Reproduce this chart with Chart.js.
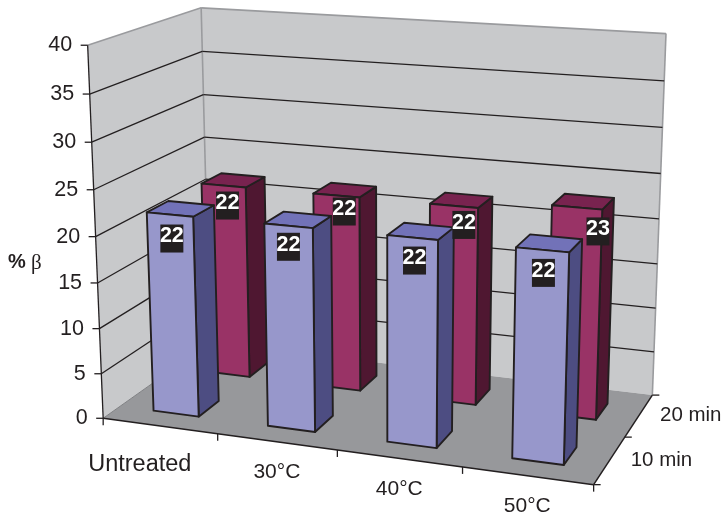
<!DOCTYPE html>
<html>
<head>
<meta charset="utf-8">
<script src="https://cdn.jsdelivr.net/npm/chart.js@4"></script>
<style>
  html, body { margin: 0; padding: 0; background: #fff; }
  canvas { display: block; }
</style>
</head>
<body>
<canvas id="graph1" width="725" height="516"></canvas>
<script>
const categories = ['Untreated', '30°C', '40°C', '50°C'];
const seriesNames = ['10 min', '20 min'];
const values10 = [22, 22, 22, 22];
const values20 = [22, 22, 22, 23];
const yTicks = [0, 5, 10, 15, 20, 25, 30, 35, 40];

const ink = '#231f20';
const wallEdge = '#9a9b9e';
const rows = [
  { w0: 0.145, w1: 0.335, front: '#9797cb', side: '#4d4d82', top: '#7272b8' },
  { w0: 0.645, w1: 0.84, front: '#993366', side: '#4f1731', top: '#78234f' }
];
// label nudges in px [x, y], the original has them moved by hand
const valueNudge = [
  [[2, 24], [0, 21], [2, 23], [1, 23]],
  [[4, 20], [8, 16], [10, 19], [21, 24]]
];
const catNudge = [[-20, 39], [0, 30], [0, 31], [0, 31]];

// picture points [u, depth, height, x, y] for the perspective fit
const anchors = [
  [0, 0, 0, 103, 418], [1, 0, 0, 592, 484], [1, 1, 0, 652, 394], [0, 1, 0, 209.5, 342],
  [0, 0, 1, 88, 45], [0, 1, 1, 201, 8], [1, 1, 1, 666, 33],
  [0.25, 0, 0, 218, 435], [0.5, 0, 0, 338, 450], [0.75, 0, 0, 462, 467], [1, 0.5, 0, 627, 438],
  [1, 1, 0.5, 658.7, 220], [0, 0, 0.5, 95.5, 236], [0, 1, 0.5, 205.7, 180]
];

function fitCamera(pts) {
  const A = [], B = [];
  pts.forEach(([u, w, h, x, y]) => {
    A.push([u, w, h, 1, 0, 0, 0, 0, -x * u, -x * w, -x * h]); B.push(x);
    A.push([0, 0, 0, 0, u, w, h, 1, -y * u, -y * w, -y * h]); B.push(y);
  });
  const n = 11;
  const M = [];
  for (let i = 0; i < n; i++) {
    M.push(new Array(n + 1).fill(0));
    for (let j = 0; j < n; j++) A.forEach(r => { M[i][j] += r[i] * r[j]; });
    A.forEach((r, k) => { M[i][n] += r[i] * B[k]; });
  }
  for (let c = 0; c < n; c++) {
    let best = c;
    for (let r = c + 1; r < n; r++) if (Math.abs(M[r][c]) > Math.abs(M[best][c])) best = r;
    [M[c], M[best]] = [M[best], M[c]];
    for (let r = 0; r < n; r++) {
      if (r === c) continue;
      const f = M[r][c] / M[c][c];
      for (let k = c; k <= n; k++) M[r][k] -= f * M[c][k];
    }
  }
  return M.map((r, i) => r[n] / r[i]);
}

const cam = fitCamera(anchors);

function project(u, w, h) {
  const d = cam[8] * u + cam[9] * w + cam[10] * h + 1;
  return [
    (cam[0] * u + cam[1] * w + cam[2] * h + cam[3]) / d,
    (cam[4] * u + cam[5] * w + cam[6] * h + cam[7]) / d
  ];
}

function poly(ctx, pts, fill, stroke, lw) {
  ctx.beginPath();
  pts.forEach((p, i) => { if (i) ctx.lineTo(p[0], p[1]); else ctx.moveTo(p[0], p[1]); });
  ctx.closePath();
  if (fill) { ctx.fillStyle = fill; ctx.fill(); }
  if (stroke) { ctx.strokeStyle = stroke; ctx.lineWidth = lw; ctx.lineJoin = 'round'; ctx.stroke(); }
}

function seg(ctx, a, b, color, lw) {
  ctx.beginPath();
  ctx.moveTo(a[0], a[1]);
  ctx.lineTo(b[0], b[1]);
  ctx.strokeStyle = color;
  ctx.lineWidth = lw;
  ctx.stroke();
}

function toU(chart, px) {
  const a = chart.chartArea;
  return (px - a.left) / (a.right - a.left);
}

function toH(chart, val) {
  const s = chart.scales.y;
  return (s.bottom - s.getPixelForValue(val)) / (s.bottom - s.top);
}

function say(ctx, text, x, y, font, align, color) {
  ctx.font = font;
  ctx.textAlign = align;
  ctx.textBaseline = 'middle';
  ctx.fillStyle = color || ink;
  ctx.fillText(text, x, y);
}

const room3d = {
  id: 'room3d',
  beforeDatasetsDraw(chart) {
    const ctx = chart.ctx;
    const P = project;
    poly(ctx, [P(0, 0, 0), P(0, 1, 0), P(0, 1, 1), P(0, 0, 1)], '#c8c9cb');
    poly(ctx, [P(0, 1, 0), P(1, 1, 0), P(1, 1, 1), P(0, 1, 1)], '#c8c9cb');
    poly(ctx, [P(0, 0, 0), P(1, 0, 0), P(1, 1, 0), P(0, 1, 0)], '#97989b');

    seg(ctx, P(0, 0, 1), P(0, 1, 1), wallEdge, 1.6);
    seg(ctx, P(0, 1, 1), P(1, 1, 1), wallEdge, 1.6);
    seg(ctx, P(1, 1, 1), P(1, 1, 0), wallEdge, 1.6);
    seg(ctx, P(0, 1, 1), P(0, 1, 0), wallEdge, 1.6);
    seg(ctx, P(0, 1, 0), P(0, 0, 0), '#7f8083', 1);

    yTicks.forEach(v => {
      const h = toH(chart, v);
      if (v > 0 && v < 40) {
        seg(ctx, P(0, 0, h), P(0, 1, h), ink, 1.3);
        seg(ctx, P(0, 1, h), P(1, 1, h), ink, 1.3);
      }
      const a = P(0, 0, h);
      seg(ctx, [a[0] - 7, a[1]], a, ink, 1.3);
      say(ctx, String(v), a[0] - 15.5, a[1], '21.5px "Liberation Sans"', 'right');
    });
    seg(ctx, P(0, 0, 0), P(0, 0, 1), ink, 1.3);
    seg(ctx, P(0, 0, 0), P(1, 0, 0), ink, 1.5);
    seg(ctx, P(1, 0, 0), P(1, 1, 0), ink, 1.5);

    for (let i = 0; i <= categories.length; i++) {
      const a = P(i / categories.length, 0, 0);
      seg(ctx, a, [a[0], a[1] + 7], ink, 1.3);
    }
    for (let i = 0; i <= seriesNames.length; i++) {
      const a = P(1, i / seriesNames.length, 0);
      seg(ctx, a, [a[0] + 7, a[1]], ink, 1.3);
    }

    categories.forEach((name, i) => {
      const a = P(toU(chart, chart.scales.x.getPixelForValue(i)), 0, 0);
      const size = i === 0 ? 23.5 : 21;
      say(ctx, name, a[0] + catNudge[i][0], a[1] + catNudge[i][1], size + 'px "Liberation Sans"', 'center');
    });
    seriesNames.forEach((name, i) => {
      const a = P(1, (i + 0.5) / seriesNames.length, 0);
      say(ctx, name, a[0] + 21, a[1], '20.5px "Liberation Sans"', 'left');
    });

    say(ctx, '%', 8, 262, 'bold 20px "Liberation Sans"', 'left');
    say(ctx, 'β', 31, 263, '21px "Liberation Serif"', 'left');
  },
  beforeDatasetDraw(chart, args) {
    const ctx = chart.ctx;
    const row = rows[args.index];
    args.meta.data.forEach((bar, i) => {
      const u0 = toU(chart, bar.x - bar.width / 2);
      const u1 = toU(chart, bar.x + bar.width / 2);
      const h = toH(chart, chart.data.datasets[args.index].data[i]);
      const { w0, w1 } = row;
      const P = project;
      poly(ctx, [P(u1, w0, 0), P(u1, w1, 0), P(u1, w1, h), P(u1, w0, h)], row.side, ink, 1.9);
      poly(ctx, [P(u0, w0, h), P(u1, w0, h), P(u1, w1, h), P(u0, w1, h)], row.top, ink, 1.9);
      poly(ctx, [P(u0, w0, 0), P(u1, w0, 0), P(u1, w0, h), P(u0, w0, h)], row.front, ink, 1.9);
    });
    return false;
  },
  afterDatasetsDraw(chart) {
    const ctx = chart.ctx;
    chart.data.datasets.forEach((ds, d) => {
      const row = rows[d];
      chart.getDatasetMeta(d).data.forEach((bar, i) => {
        const val = ds.data[i];
        const a = project(toU(chart, bar.x), row.w0, toH(chart, val));
        const x = a[0] + valueNudge[d][i][0];
        const y = a[1] + valueNudge[d][i][1];
        ctx.fillStyle = ink;
        ctx.fillRect(x - 11.5, y - 14, 23, 28);
        say(ctx, String(val), x, y - 2, 'bold 21.5px "Liberation Sans"', 'center', '#fff');
      });
    });
  }
};

new Chart(document.getElementById('graph1').getContext('2d'), {
  type: 'bar',
  data: {
    labels: categories,
    datasets: [
      { label: seriesNames[0], data: values10, barPercentage: 0.4, categoryPercentage: 1 },
      { label: seriesNames[1], data: values20, barPercentage: 0.4, categoryPercentage: 1 }
    ]
  },
  options: {
    responsive: false,
    animation: false,
    plugins: { legend: { display: false }, tooltip: { enabled: false } },
    scales: {
      x: { display: false, stacked: true },
      y: { display: false, stacked: false, min: 0, max: 40, ticks: { stepSize: 5 } }
    }
  },
  plugins: [room3d]
});
</script>
</body>
</html>
